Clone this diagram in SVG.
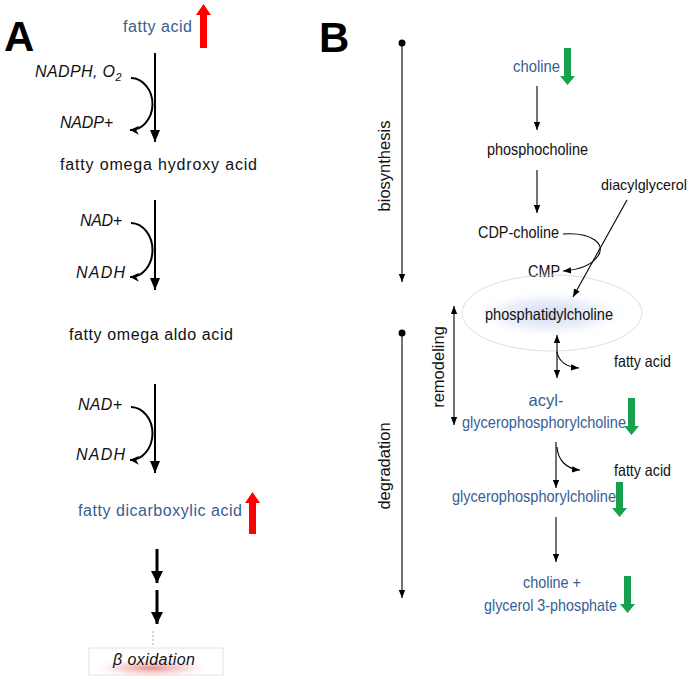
<svg xmlns="http://www.w3.org/2000/svg" width="693" height="680" viewBox="0 0 693 680">
<defs>
<style>
text{font-family:"Liberation Sans",Arial,sans-serif;fill:#111}
.blue{fill:#366092}
.it{font-style:italic}
.a{font-size:16px}
.b{font-size:16.5px}
.big{font-size:42px;font-weight:bold;fill:#000}
.ln{fill:none;stroke:#000}
.thA{stroke-width:2}
.thB{stroke-width:1.1}
</style>
<marker id="hA" viewBox="0 0 12 10" markerUnits="userSpaceOnUse" markerWidth="12" markerHeight="10" refX="12" refY="5" orient="auto"><path d="M0,0 L12,5 L0,10 z" fill="#000"/></marker>
<marker id="hA2" viewBox="0 0 12 12" markerUnits="userSpaceOnUse" markerWidth="12" markerHeight="12" refX="12" refY="6" orient="auto"><path d="M0,0 L12,6 L0,12 z" fill="#000"/></marker>
<marker id="hC" viewBox="0 0 10 10" markerUnits="userSpaceOnUse" markerWidth="9" markerHeight="9" refX="10" refY="5" orient="auto"><path d="M0,0 L10,5 L0,10 L3,5 z" fill="#000"/></marker>
<marker id="hB" viewBox="0 0 10 8" markerUnits="userSpaceOnUse" markerWidth="8" markerHeight="7" refX="10" refY="4" orient="auto-start-reverse"><path d="M0,0 L10,4 L0,8 z" fill="#000"/></marker>
<radialGradient id="gBlue"><stop offset="0" stop-color="#7f9bd6" stop-opacity="0.4"/><stop offset="0.6" stop-color="#a9bce4" stop-opacity="0.22"/><stop offset="1" stop-color="#ffffff" stop-opacity="0"/></radialGradient>
<radialGradient id="gRed"><stop offset="0" stop-color="#e06060" stop-opacity="0.7"/><stop offset="0.6" stop-color="#f0a0a0" stop-opacity="0.3"/><stop offset="1" stop-color="#ffffff" stop-opacity="0"/></radialGradient>
</defs>
<rect width="693" height="680" fill="#fff"/>

<!-- Panel A -->
<g id="labelA"><text class="big" x="4" y="51">A</text></g>
<g id="fattyAcid">
<text class="a blue" x="123" y="32" textLength="69" lengthAdjust="spacing">fatty acid</text>
<polygon points="200,48 207,48 207,15 211,15 203.5,4 196,15 200,15" fill="#ff0000"/>
</g>
<g id="cofactor1">
<text class="a it" x="35" y="77" textLength="80" lengthAdjust="spacing">NADPH, O</text>
<text class="it" x="115.5" y="81" font-size="11">2</text>
<text class="a it" x="60" y="128" textLength="53" lengthAdjust="spacing">NADP+</text>
</g>
<g id="hydroxyAcid"><text class="a" x="60" y="170" textLength="197" lengthAdjust="spacing">fatty omega  hydroxy acid</text></g>
<g id="cofactor2">
<text class="a it" x="80" y="226" textLength="42" lengthAdjust="spacing">NAD+</text>
<text class="a it" x="76" y="278" textLength="49" lengthAdjust="spacing">NADH</text>
</g>
<g id="aldoAcid"><text class="a" x="69" y="340" textLength="164" lengthAdjust="spacing">fatty omega aldo acid</text></g>
<g id="cofactor3">
<text class="a it" x="78" y="410" textLength="44" lengthAdjust="spacing">NAD+</text>
<text class="a it" x="76" y="460" textLength="49" lengthAdjust="spacing">NADH</text>
</g>
<g id="dicarboxylicAcid">
<text class="a blue" x="78" y="516" textLength="164" lengthAdjust="spacing">fatty dicarboxylic acid</text>
<polygon points="249,534 256,534 256,503 260,503 252.5,492 245,503 249,503" fill="#ff0000"/>
</g>
<g id="betaOxidation">
<rect x="89" y="648" width="134" height="27" fill="#fff" stroke="#e2e2e2" stroke-width="1"/>
<ellipse cx="152" cy="668" rx="62" ry="10" fill="url(#gRed)"/>
<text class="it" x="113" y="665" font-size="16" textLength="82" lengthAdjust="spacing">β oxidation</text>
</g>

<g id="connectorsA">
<line class="ln thA" x1="155" y1="53" x2="155" y2="142" marker-end="url(#hA)"/>
<path class="ln thA" d="M131,78 A22,26 0 0 1 130,130" marker-end="url(#hC)"/>
<line class="ln thA" x1="155" y1="200" x2="155" y2="290" marker-end="url(#hA)"/>
<path class="ln thA" d="M131,223 A22,27 0 0 1 130,277" marker-end="url(#hC)"/>
<line class="ln thA" x1="155" y1="384" x2="155" y2="473" marker-end="url(#hA)"/>
<path class="ln thA" d="M131,407 A22,26.5 0 0 1 130,460" marker-end="url(#hC)"/>
<line class="ln" stroke-width="3" x1="157" y1="549" x2="157" y2="583" marker-end="url(#hA2)"/>
<line class="ln" stroke-width="3" x1="157" y1="590" x2="157" y2="624" marker-end="url(#hA2)"/>
<line x1="153" y1="631" x2="153" y2="647" stroke="#aaa" stroke-width="1" stroke-dasharray="2,2"/>
</g>

<!-- Panel B -->
<g id="labelB"><text class="big" x="319" y="52">B</text></g>
<g id="biosynthesis"><text class="b" transform="translate(390,166) rotate(-90)" text-anchor="middle">biosynthesis</text></g>
<g id="degradation"><text class="b" transform="translate(390,466) rotate(-90)" text-anchor="middle">degradation</text></g>
<g id="remodeling"><text class="b" transform="translate(444,367) rotate(-90)" text-anchor="middle">remodeling</text></g>
<g id="choline">
<text class="b blue" x="513" y="72" textLength="47" lengthAdjust="spacingAndGlyphs">choline</text>
<polygon points="564,48 571,48 571,76 575,76 567.5,85 560,76 564,76" fill="#17a04e"/>
</g>
<g id="phosphocholine"><text class="b" x="487" y="155" textLength="101" lengthAdjust="spacingAndGlyphs">phosphocholine</text></g>
<g id="diacylglycerol"><text x="601" y="190" font-size="15" textLength="86" lengthAdjust="spacingAndGlyphs">diacylglycerol</text></g>
<g id="cdpCholine"><text class="b" x="478" y="238" textLength="81" lengthAdjust="spacingAndGlyphs">CDP-choline</text></g>
<g id="cmp"><text class="b" x="528" y="277" textLength="32" lengthAdjust="spacingAndGlyphs">CMP</text></g>
<g id="phosphatidylcholine">
<ellipse cx="552" cy="313" rx="90" ry="38" fill="none" stroke="#d4d4d4" stroke-width="0.8"/>
<ellipse cx="550" cy="314" rx="80" ry="24" fill="url(#gBlue)"/>
<text class="b" x="485" y="320" textLength="128" lengthAdjust="spacingAndGlyphs">phosphatidylcholine</text>
</g>
<g id="fattyAcidB1"><text class="b" x="614" y="367" textLength="57" lengthAdjust="spacingAndGlyphs">fatty acid</text></g>
<g id="acylGPC">
<text class="b blue" x="546" y="406" text-anchor="middle" textLength="35" lengthAdjust="spacingAndGlyphs">acyl-</text>
<text class="b blue" x="462" y="428" textLength="164" lengthAdjust="spacingAndGlyphs">glycerophosphorylcholine</text>
<polygon points="628,398 635,398 635,426 639,426 631.5,435 624,426 628,426" fill="#17a04e"/>
</g>
<g id="fattyAcidB2"><text class="b" x="614" y="476" textLength="57" lengthAdjust="spacingAndGlyphs">fatty acid</text></g>
<g id="gpc">
<text class="b blue" x="452" y="502" textLength="164" lengthAdjust="spacingAndGlyphs">glycerophosphorylcholine</text>
<polygon points="616,482 623,482 623,508 627,508 619.5,517 612,508 616,508" fill="#17a04e"/>
</g>
<g id="cholineGlycerol3P">
<text class="b blue" x="523" y="588" textLength="58" lengthAdjust="spacingAndGlyphs">choline +</text>
<text class="b blue" x="484" y="611" textLength="133" lengthAdjust="spacingAndGlyphs">glycerol 3-phosphate</text>
<polygon points="624,576 631,576 631,604 635,604 627.5,613 620,604 624,604" fill="#17a04e"/>
</g>

<g id="connectorsB">
<circle cx="402" cy="43" r="3.5" fill="#000"/>
<line class="ln thB" x1="402" y1="43" x2="402" y2="282" marker-end="url(#hB)"/>
<circle cx="402" cy="333" r="3.5" fill="#000"/>
<line class="ln thB" x1="402" y1="333" x2="402" y2="598" marker-end="url(#hB)"/>
<line class="ln thB" x1="454" y1="306" x2="454" y2="425" marker-start="url(#hB)" marker-end="url(#hB)"/>
<line class="ln thB" x1="537" y1="86" x2="537" y2="130" marker-end="url(#hB)"/>
<line class="ln thB" x1="537" y1="170" x2="537" y2="213" marker-end="url(#hB)"/>
<path class="ln thB" d="M563,234 C592,232 606,244 598,256 C591,266 577,270 563,271" marker-end="url(#hB)"/>
<line class="ln thB" x1="627" y1="200" x2="573" y2="297" marker-end="url(#hB)"/>
<line class="ln thB" x1="557" y1="335" x2="557" y2="378" marker-start="url(#hB)" marker-end="url(#hB)"/>
<path class="ln thB" d="M557,352 C559,362 566,367 579,368" marker-end="url(#hB)"/>
<line class="ln thB" x1="556" y1="442" x2="556" y2="488" marker-end="url(#hB)"/>
<path class="ln thB" d="M557,447 C558,460 566,469 580,470" marker-end="url(#hB)"/>
<line class="ln thB" x1="556" y1="517" x2="556" y2="562" marker-end="url(#hB)"/>
</g>
</svg>
